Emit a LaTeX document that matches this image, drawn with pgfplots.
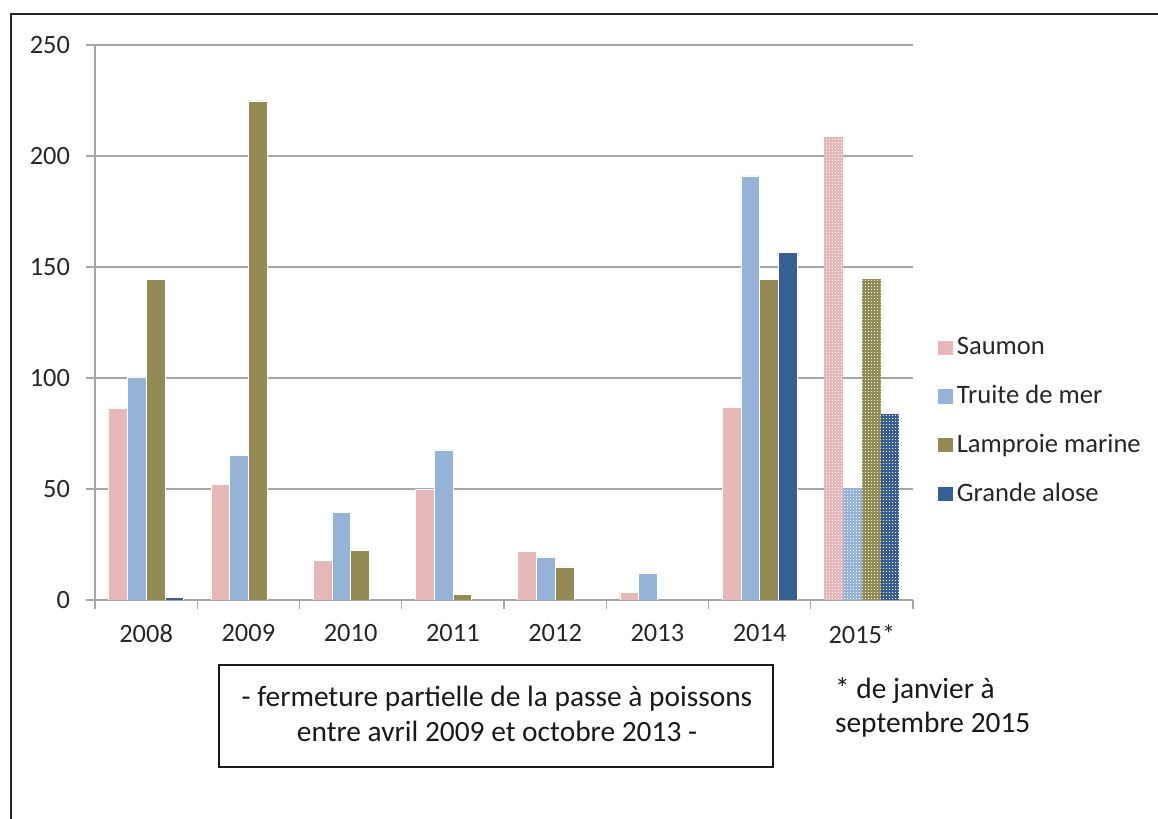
\documentclass[border=0pt]{standalone}
\usepackage{pgfplots}
\pgfplotsset{compat=1.18}
\usepackage{fontspec}
\setmainfont{Carlito}
\usetikzlibrary{patterns}
\definecolor{saumon}{HTML}{E6B9B8}
\definecolor{truite}{HTML}{95B3D7}
\definecolor{lamproie}{HTML}{948A54}
\definecolor{alose}{HTML}{376092}
\definecolor{gridc}{HTML}{A6A6A6}
\pgfdeclarepatternformonly{smallgrid}{\pgfqpoint{-0.1pt}{-0.1pt}}{\pgfqpoint{1.6pt}{1.6pt}}{\pgfqpoint{1.5pt}{1.5pt}}{%
  \pgfpathrectangle{\pgfqpoint{0.35pt}{0.55pt}}{\pgfqpoint{0.8pt}{0.45pt}}\pgfusepath{fill}}
\begin{document}
\fontsize{13}{15.6}\selectfont
\begin{tikzpicture}[font=\fontsize{13}{15.6}\selectfont]
\path[use as bounding box] (0,0) rectangle (579pt,409.5pt);
\draw[line width=1pt, black!85] (5.5pt,0) -- (5.5pt,402.5pt) -- (579pt,402.5pt);
\begin{axis}[
  at={(47.5pt,109.5pt)}, anchor=south west,
  scale only axis, width=409pt, height=277.5pt,
  xmin=-0.5, xmax=7.5, ymin=0, ymax=250,
  ytick={0,50,...,250},
  xtick={-0.5,0.5,...,7.5},
  xticklabels={2008,2009,2010,2011,2012,2013,2014,2015*},
  x tick label as interval,
  axis x line*=bottom, axis y line*=left,
  axis line style={-, draw=gridc, line width=0.6pt},
  ymajorgrids, major grid style={draw=gridc, line width=0.6pt},
  tick align=outside, major tick length=4.5pt,
  tick style={draw=gridc, line width=0.6pt},
  /pgf/number format/assume math mode=true,
  tick label style={text=black!85, font=\fontsize{13.2}{15.6}\selectfont},
  yticklabel style={xshift=-3.5pt},
  xticklabel style={yshift=-3.3pt},
  ybar=0pt, bar width=0.183,
  legend style={at={(1,0.322)}, anchor=west, xshift=12.5pt, draw=none, fill=none,
    inner xsep=0pt, inner ysep=0pt, row sep=9.2pt,
    font=\fontsize{13.3}{15.6}\selectfont, text=black!85,
    nodes={inner xsep=2pt}},
  legend cell align=left,
  legend image code/.code={\fill[#1, draw=none] (0pt,-3.6pt) rectangle (7.2pt,3.6pt);},
]
\addplot[fill=saumon, draw=white, line width=0.3pt, bar shift=-0.2745]
  coordinates {(0,86.5) (1,52.1) (2,17.9) (3,50) (4,22) (5,3.6) (6,87)};
\addlegendentry{Saumon}
\addplot[fill=truite, draw=white, line width=0.3pt, bar shift=-0.0915]
  coordinates {(0,100.5) (1,65.3) (2,39.3) (3,67.6) (4,19.4) (5,12.2) (6,191)};
\addlegendentry{Truite de mer}
\addplot[fill=lamproie, draw=white, line width=0.3pt, bar shift=0.0915]
  coordinates {(0,144.5) (1,224.8) (2,22.5) (3,2.5) (4,14.9) (6,144.5)};
\addlegendentry{Lamproie marine}
\addplot[fill=alose, draw=white, line width=0.3pt, bar shift=0.2745]
  coordinates {(0,1.2) (6,156.6)};
\addlegendentry{Grande alose}
% 2015 (partial year, patterned)
\addplot[forget plot, fill=saumon, draw=none, bar shift=-0.2745,
  postaction={pattern=smallgrid, pattern color=white}]
  coordinates {(7,208.7)};
\addplot[forget plot, fill=truite, draw=none, bar shift=-0.0915,
  postaction={pattern=smallgrid, pattern color=white}]
  coordinates {(7,50.3)};
\addplot[forget plot, fill=lamproie, draw=none, bar shift=0.0915,
  postaction={pattern=smallgrid, pattern color=white}]
  coordinates {(7,144.5)};
\addplot[forget plot, fill=alose, draw=none, bar shift=0.2745,
  postaction={pattern=smallgrid, pattern color=white}]
  coordinates {(7,83.8)};
\end{axis}
\draw[line width=0.8pt, black!90] (109.5pt,26pt) rectangle (386.5pt,77pt);
\node[align=center, text=black!90, font=\fontsize{14.7}{17.5}\selectfont] at (248.5pt,52.5pt)
  {- fermeture partielle de la passe à poissons\\entre avril 2009 et octobre 2013 -};
\node[align=left, anchor=west, text=black!90, font=\fontsize{14.7}{17}\selectfont] at (413pt,56pt)
  {* de janvier à\\septembre 2015};
\end{tikzpicture}
\end{document}
